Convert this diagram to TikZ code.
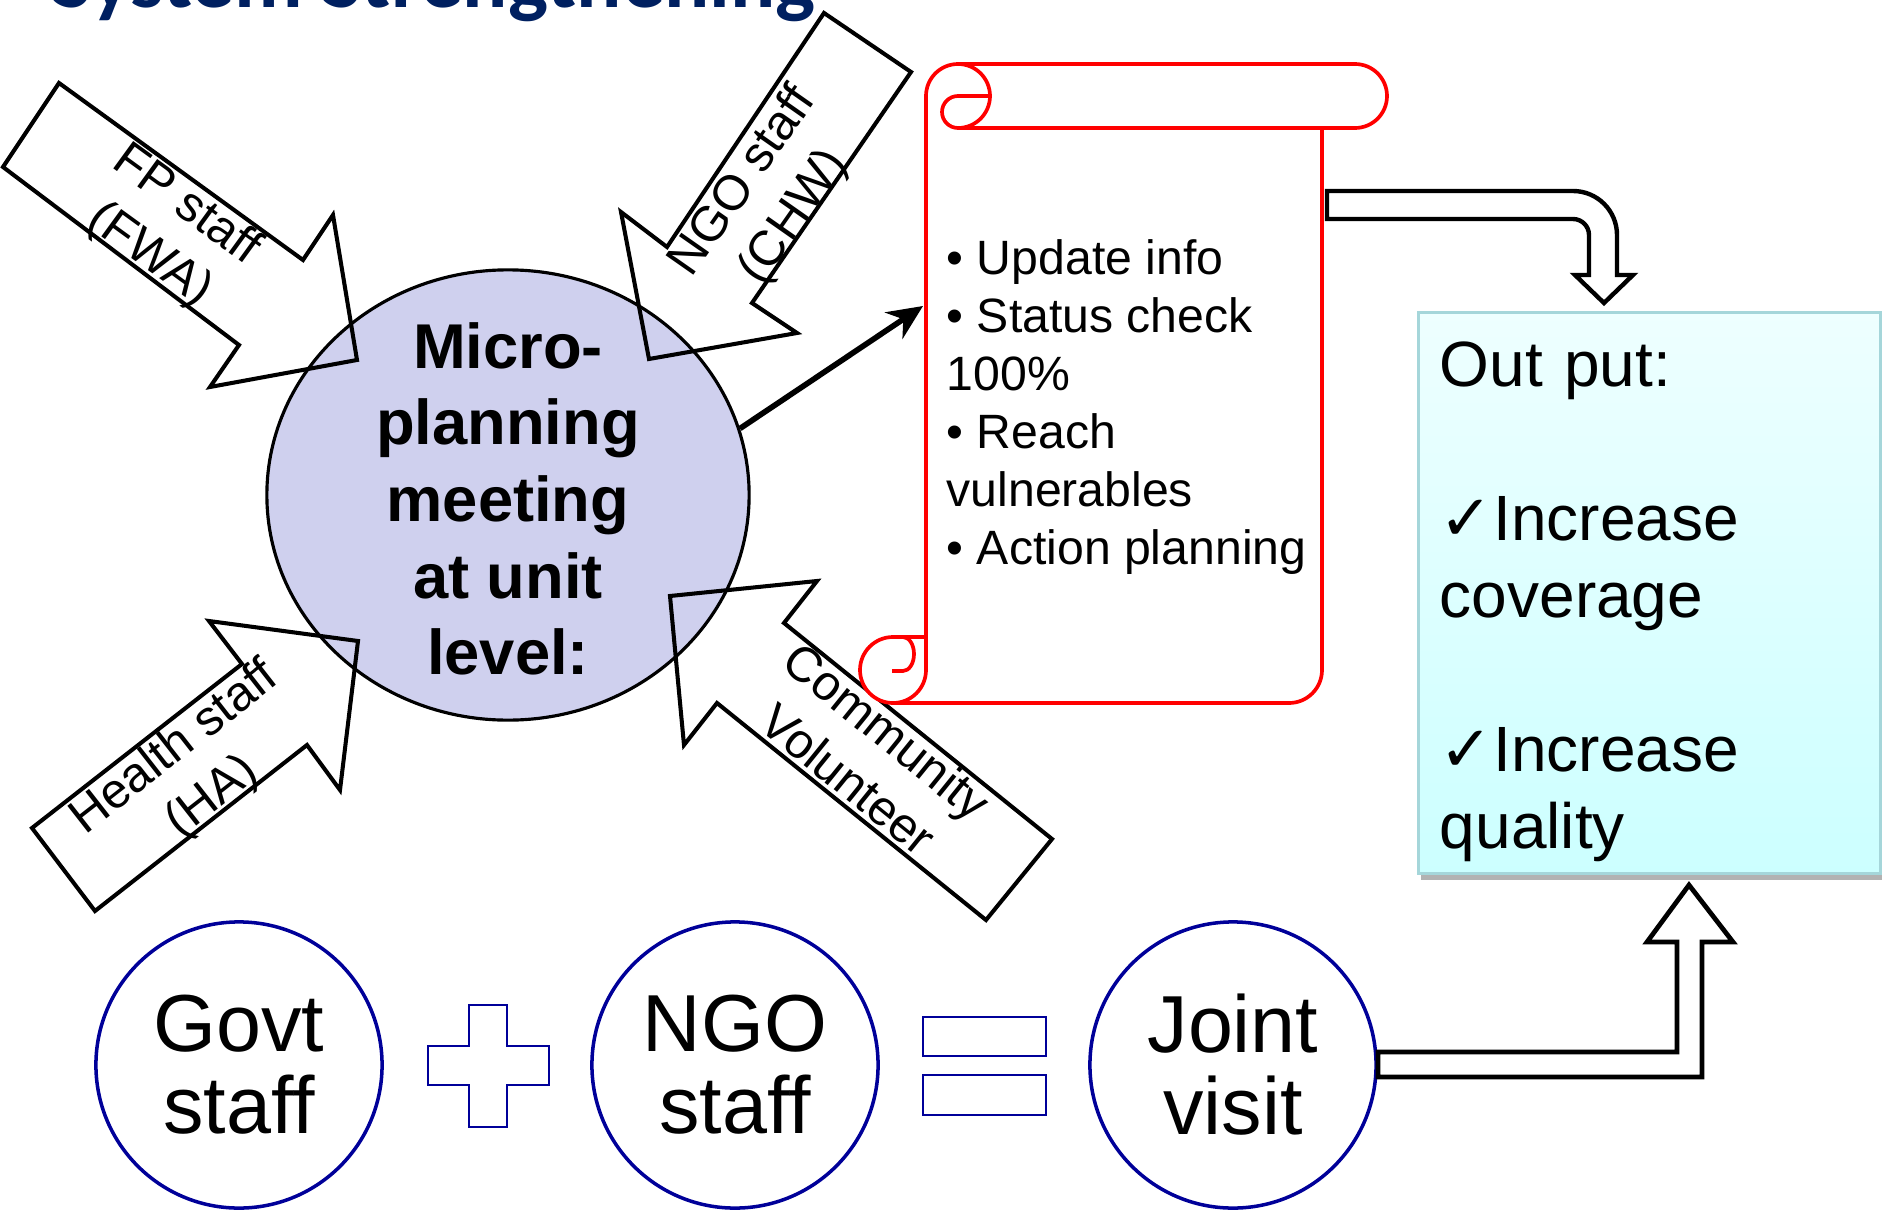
\documentclass[tikz,border=0pt]{standalone}
\usepackage{fontspec}
\setmainfont{Liberation Sans}
\newfontfamily\titlefont{Carlito}
\newfontfamily\symbfont{DejaVu Sans}
\usetikzlibrary{shapes.geometric, arrows.meta, shadows}
\definecolor{titleblue}{HTML}{002060}
\definecolor{meetfill}{RGB}{207,208,238}
\definecolor{teamblue}{RGB}{0,0,153}
\definecolor{outedge}{RGB}{165,214,218}
\definecolor{outtop}{RGB}{238,255,255}
\definecolor{outbottom}{RGB}{204,255,255}
\tikzset{
x=0.01cm, y=-0.01cm, % one unit is one pixel of the slide, y runs downwards
blockarrow/.style={draw, line width=1.15pt, line join=miter}, % the four staff arrows, not filled
arrowtext/.style={align=center, font=\fontsize{14}{17.5}\selectfont},
meeting/.style={ellipse, draw, line width=0.9pt, fill=meetfill, minimum width=4.82cm, minimum height=4.5cm, inner sep=0pt},
meettext/.style={align=center, font=\bfseries\fontsize{18}{21.8}\selectfont},
pointer/.style={-{Stealth[length=10pt, width=9pt]}, line width=1.6pt},
scrollline/.style={draw=red, line width=1.05pt, line join=round},
scrolltext/.style={align=left, inner sep=0pt, font=\fontsize{13.7}{16.45}\selectfont},
bentarrow/.style={draw, fill=white, line width=1.25pt, line join=miter},
outbox/.style={rectangle, draw=outedge, line width=0.8pt, top color=outtop, bottom color=outbottom,
  minimum width=4.61cm, minimum height=5.6cm, text width=4.19cm, inner xsep=0.21cm, align=left,
  font=\fontsize{18.2}{21.9}\selectfont,
  drop shadow={shadow xshift=0.6pt, shadow yshift=-1.8pt, fill=black, opacity=0.3}},
teamcircle/.style={circle, draw=teamblue, line width=1pt, minimum size=2.86cm, inner sep=0pt, align=center, font=\fontsize{23}{23.3}\selectfont},
signline/.style={draw=teamblue, line width=0.6pt, fill=white},
}

\begin{document}
\begin{tikzpicture}

\useasboundingbox (0,0) rectangle (1884,1215);

\node[anchor=base west, inner sep=0pt, text=titleblue, font=\titlefont\bfseries\fontsize{24}{28}\selectfont] at (52, 8) (title) {System Strengthening};

\node[meeting] at (508, 495) (meet) {};
\node[meettext] at (508, 499) (meettxt) {Micro-\\planning\\meeting\\at unit\\level:};

\draw[blockarrow] (59,83) -- (303,260) -- (333,215) -- (357,360) -- (210,387) -- (239,345) -- (3,167) -- cycle;
\draw[blockarrow] (824,13) -- (911,72) -- (752,303) -- (797,333) -- (649,359) -- (621,212) -- (667,247) -- cycle;
\draw[blockarrow] (358,641) -- (209,621) -- (242,664) -- (32,828) -- (95,911) -- (307,745) -- (340,790) -- cycle;
\draw[blockarrow] (670,596) -- (684,745) -- (717,703) -- (986,920) -- (1052,839) -- (784,623) -- (817,581) -- cycle;

\node[arrowtext, rotate=-36] at (168, 231) (fp) {FP staff\\(FWA)};
\node[arrowtext, rotate=55] at (769, 200) (ngoarrow) {NGO staff\\(CHW)};
\node[arrowtext, rotate=38] at (194, 773) (health) {Health staff\\(HA)};
\node[arrowtext, rotate=-39] at (868, 755) (volunteer) {Community\\Volunteer};

\draw[scrollline, fill=white] (926,96) arc[start angle=180, end angle=270, radius=32] -- (1355,64)
  arc[start angle=270, end angle=450, radius=32] -- (1322,128) -- (1322,670)
  arc[start angle=0, end angle=90, radius=33] -- (893,703)
  arc[start angle=90, end angle=270, radius=33] -- (926,637) -- cycle;
\draw[scrollline] (1322,128) -- (958,128) arc[start angle=90, end angle=270, radius=16] -- (990,96);
\draw[scrollline] (958,64) arc[start angle=-90, end angle=90, radius=32];
\draw[scrollline] (926,637) -- (926,670) arc[start angle=0, end angle=90, radius=33];
\draw[scrollline] (903,637) arc[start angle=-90, end angle=90, x radius=11, y radius=17] -- (892,671);

\node[scrolltext, anchor=west] at (946, 407) (tasks) {• Update info\\• Status check\\100\%\\• Reach\\vulnerables\\• Action planning};

\coordinate (scrollin) at (923, 306);
\draw[pointer] (meet.16) -- (scrollin);

\draw[bentarrow] (1327,191) -- (1573,191) arc[start angle=-90, end angle=0, radius=44] -- (1617,275) -- (1633,275)
  -- (1604,303) -- (1575,275) -- (1589,275) -- (1589,235) arc[start angle=0, end angle=-90, radius=16] -- (1327,219) -- cycle;

\node[outbox] at (1649.5, 593) (output) {\\[-4pt]Out put:\\\strut\\{\symbfont ✓}Increase\\coverage\\\strut\\{\symbfont ✓}Increase\\quality};

\node[teamcircle] at (239, 1065) (govt) {Govt\\staff};
\node[teamcircle] at (735, 1065) (ngo) {NGO\\staff};
\node[teamcircle] at (1233, 1065) (joint) {Joint\\visit};

\draw[signline] (469,1005) -- (507,1005) -- (507,1046) -- (549,1046) -- (549,1085) -- (507,1085) -- (507,1127)
  -- (469,1127) -- (469,1085) -- (428,1085) -- (428,1046) -- (469,1046) -- cycle;
\draw[signline] (923,1017) rectangle (1046,1056);
\draw[signline] (923,1075) rectangle (1046,1115);

\draw[bentarrow, line width=1.35pt] (1378,1052) -- (1677,1052) -- (1677,942) -- (1647,942) -- (1689,885) -- (1733,942)
  -- (1702,942) -- (1702,1077) -- (1378,1077) -- cycle;

\end{tikzpicture}
\end{document}
